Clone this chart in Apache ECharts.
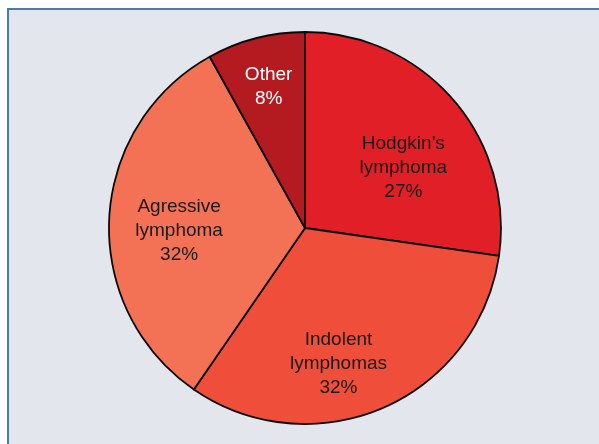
<!DOCTYPE html>
<html>
<head>
<meta charset="utf-8">
<script src="https://cdn.jsdelivr.net/npm/echarts@6/dist/echarts.min.js"></script>
<style>
html,body{margin:0;padding:0;background:#ffffff;}
#chart{width:599px;height:444px;}
</style>
</head>
<body>
<div id="chart"></div>
<script>
const categories = ["Hodgkin’s\nlymphoma", "Indolent\nlymphomas", "Agressive\nlymphoma", "Other"];
const values = [27, 32, 32, 8];
const colors = ["#e11f26", "#ef4f3a", "#f37256", "#b31b20"];
const labelColors = ["#1a1a1a", "#1a1a1a", "#1a1a1a", "#ffffff"];
const labelOffsets = [[22, 6], [-7, 43], [-25, 8], [-11, -43]];

const chart = echarts.init(document.getElementById('chart'));
chart.setOption({
  animation: false,
  backgroundColor: '#ffffff',
  graphic: [{
    type: 'rect',
    z: -10,
    shape: { x: 8, y: 9, width: 700, height: 600 },
    style: { fill: '#e3e6ec', stroke: '#4a7bab', lineWidth: 2 }
  }],
  series: [{
    type: 'pie',
    center: [305, 228],
    radius: 196,
    startAngle: 90,
    clockwise: true,
    avoidLabelOverlap: false,
    itemStyle: { borderColor: '#0a0a0a', borderWidth: 1.8 },
    label: {
      show: true,
      position: 'inside',
      formatter: '{b}\n{c}%',
      fontFamily: 'Liberation Sans, Arial, sans-serif',
      fontSize: 19,
      lineHeight: 24,
      align: 'center'
    },
    labelLine: { show: false },
    emphasis: { disabled: true },
    data: categories.map((name, i) => ({
      name: name,
      value: values[i],
      itemStyle: { color: colors[i] },
      label: { color: labelColors[i], offset: labelOffsets[i] }
    }))
  }]
});
</script>
</body>
</html>
